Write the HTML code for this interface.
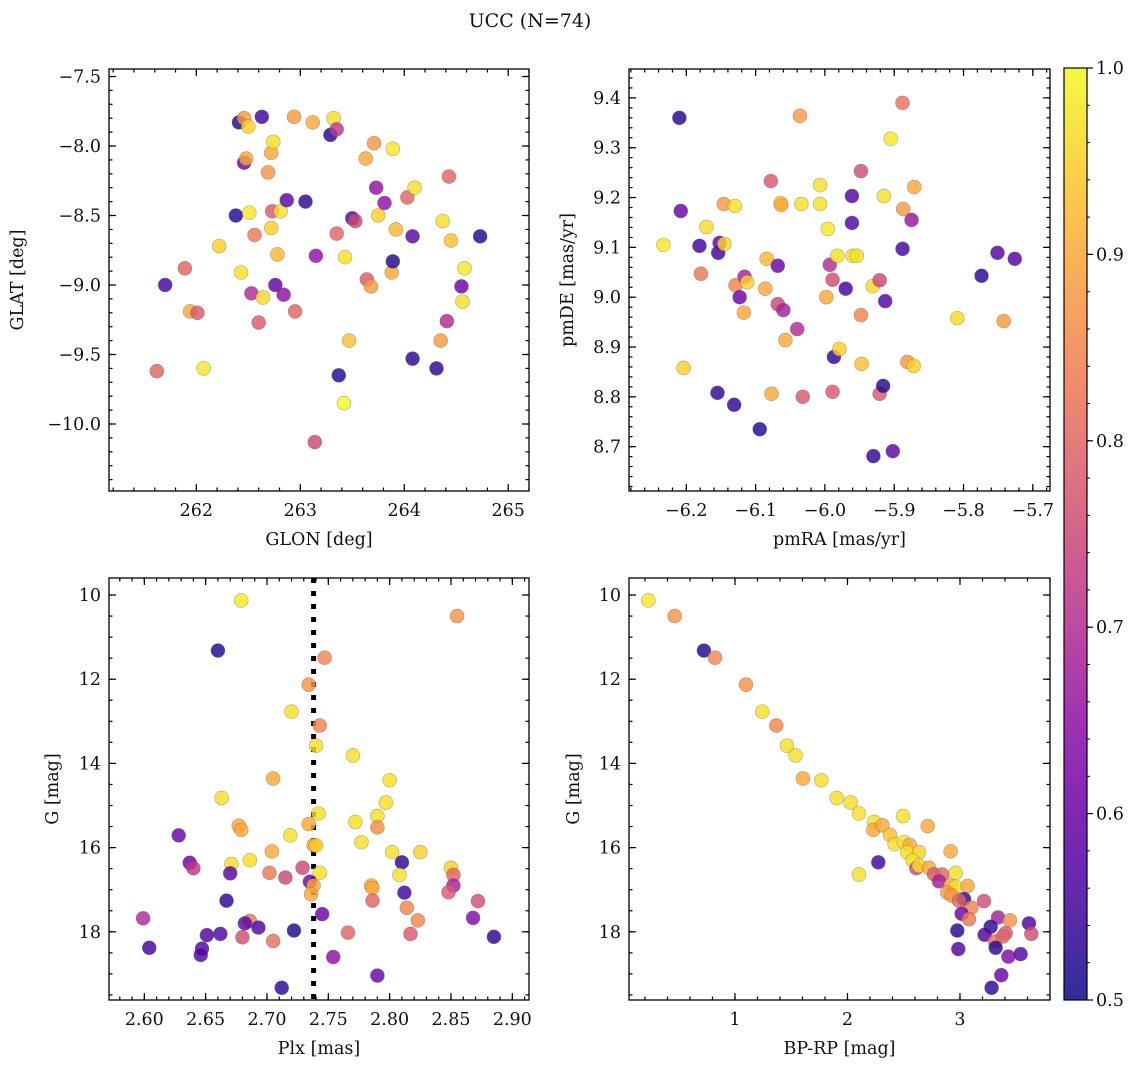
<!DOCTYPE html>
<html><head><meta charset="utf-8">
<style>
body{margin:0;background:#fff;}
svg text{font-family:"DejaVu Serif","Liberation Serif",serif;fill:#111;}
</style></head>
<body>
<svg id="fig" width="1136" height="1068" xmlns="http://www.w3.org/2000/svg">
<defs></defs>
<text x="530" y="27" font-size="19" text-anchor="middle">UCC (N=74)</text>
</svg>
<script>
// Panel 1: GLON / GLAT
const p1Lon=[261.62,261.70,261.89,261.94,262.01,262.07,262.22,262.38,262.41,262.43,262.46,262.46,262.48,262.50,262.51,262.53,262.56,262.60,262.63,262.64,262.69,262.72,262.72,262.73,262.74,262.76,262.78,262.81,262.84,262.87,262.94,262.95,263.05,263.12,263.14,263.15,263.29,263.32,263.35,263.35,263.37,263.42,263.43,263.47,263.50,263.53,263.63,263.64,263.68,263.71,263.73,263.75,263.81,263.88,263.89,263.89,263.92,264.03,264.08,264.08,264.10,264.31,264.35,264.37,264.41,264.43,264.45,264.55,264.56,264.58,264.73];
const p1Lat=[-9.62,-9.00,-8.88,-9.19,-9.20,-9.60,-8.72,-8.50,-7.83,-8.91,-8.12,-7.80,-8.09,-7.86,-8.48,-9.06,-8.64,-9.27,-7.79,-9.09,-8.19,-8.05,-8.59,-8.47,-7.97,-9.00,-8.78,-8.47,-9.07,-8.39,-7.79,-9.19,-8.40,-7.83,-10.13,-8.79,-7.92,-7.80,-7.88,-8.63,-9.65,-9.85,-8.80,-9.40,-8.52,-8.54,-8.09,-8.96,-9.01,-7.98,-8.30,-8.50,-8.41,-8.91,-8.83,-8.02,-8.60,-8.37,-9.53,-8.65,-8.30,-9.60,-9.40,-8.54,-9.26,-8.22,-8.68,-9.01,-9.12,-8.88,-8.65];
const p1Col=[0.8,0.55,0.8,0.9,0.78,0.98,0.95,0.52,0.52,0.97,0.6,0.88,0.9,0.95,0.98,0.7,0.83,0.78,0.55,0.96,0.87,0.9,0.95,0.78,0.97,0.58,0.92,0.97,0.65,0.58,0.88,0.8,0.53,0.9,0.75,0.65,0.52,0.97,0.72,0.8,0.52,1.0,0.97,0.93,0.57,0.75,0.9,0.78,0.88,0.87,0.65,0.95,0.65,0.9,0.52,0.98,0.92,0.8,0.53,0.58,0.97,0.53,0.88,0.97,0.7,0.8,0.93,0.6,0.97,0.98,0.52];
// Panel 2: pmRA / pmDE
const p2RA=[-6.233,-6.210,-6.208,-6.204,-6.181,-6.179,-6.171,-6.155,-6.154,-6.152,-6.146,-6.145,-6.131,-6.130,-6.129,-6.123,-6.117,-6.116,-6.112,-6.094,-6.086,-6.084,-6.078,-6.077,-6.068,-6.068,-6.064,-6.063,-6.060,-6.057,-6.040,-6.036,-6.034,-6.032,-6.007,-6.007,-5.998,-5.996,-5.993,-5.989,-5.989,-5.987,-5.982,-5.979,-5.970,-5.961,-5.961,-5.960,-5.954,-5.948,-5.948,-5.947,-5.931,-5.930,-5.921,-5.921,-5.916,-5.915,-5.913,-5.905,-5.902,-5.888,-5.888,-5.887,-5.881,-5.875,-5.872,-5.871,-5.809,-5.774,-5.751,-5.742,-5.726];
const p2DE=[9.105,9.36,9.173,8.858,9.103,9.047,9.141,8.808,9.089,9.109,9.187,9.107,8.784,9.183,9.024,9.0,8.969,9.041,9.03,8.735,9.017,9.077,9.233,8.806,9.063,8.986,9.189,9.185,8.974,8.914,8.936,9.364,9.187,8.800,9.225,9.187,9.0,9.137,9.065,9.035,8.810,8.880,9.083,8.896,9.017,9.203,9.149,9.083,9.083,9.253,8.964,8.866,9.022,8.681,9.034,8.806,8.822,9.203,8.992,9.318,8.691,9.390,9.097,9.177,8.870,9.155,8.862,9.221,8.958,9.043,9.089,8.952,9.077];
const p2Col=[0.98,0.52,0.6,0.95,0.55,0.83,0.97,0.53,0.55,0.58,0.88,0.96,0.53,0.97,0.85,0.6,0.9,0.68,0.95,0.52,0.9,0.92,0.78,0.9,0.6,0.75,0.96,0.9,0.68,0.9,0.7,0.88,0.97,0.78,0.97,0.97,0.9,0.98,0.7,0.76,0.78,0.53,0.97,0.95,0.55,0.57,0.57,0.97,0.97,0.76,0.85,0.93,0.96,0.53,0.75,0.78,0.52,0.97,0.57,0.98,0.58,0.82,0.55,0.88,0.88,0.66,0.95,0.9,0.96,0.53,0.57,0.88,0.57];
// Panel 3: Plx / G
const p3Plx=[2.679,2.855,2.660,2.747,2.734,2.720,2.743,2.740,2.770,2.705,2.800,2.663,2.797,2.742,2.790,2.677,2.734,2.772,2.679,2.790,2.628,2.719,2.777,2.738,2.740,2.704,2.802,2.825,2.686,2.637,2.810,2.671,2.640,2.729,2.850,2.743,2.670,2.702,2.808,2.852,2.715,2.735,2.738,2.785,2.786,2.852,2.812,2.736,2.848,2.667,2.786,2.872,2.814,2.745,2.599,2.868,2.823,2.686,2.682,2.693,2.722,2.766,2.662,2.651,2.817,2.885,2.680,2.705,2.604,2.647,2.646,2.754,2.790,2.712];
const p3G=[10.13,10.50,11.32,11.49,12.13,12.77,13.10,13.58,13.81,14.36,14.40,14.82,14.93,15.19,15.25,15.48,15.44,15.39,15.58,15.52,15.71,15.71,15.87,15.94,15.95,16.09,16.11,16.11,16.30,16.36,16.35,16.39,16.49,16.48,16.48,16.60,16.61,16.60,16.65,16.65,16.71,16.81,16.90,16.90,16.96,16.90,17.07,17.11,17.06,17.26,17.26,17.27,17.43,17.58,17.68,17.67,17.73,17.74,17.80,17.90,17.97,18.02,18.05,18.08,18.05,18.12,18.13,18.22,18.38,18.40,18.55,18.60,19.04,19.33];
const p3Col=[0.98,0.87,0.52,0.85,0.87,0.97,0.85,0.97,0.97,0.9,0.97,0.97,0.97,0.97,0.97,0.9,0.9,0.97,0.9,0.86,0.6,0.97,0.97,0.9,0.95,0.9,0.97,0.95,0.97,0.6,0.53,0.97,0.72,0.75,0.95,0.97,0.58,0.83,0.97,0.8,0.75,0.6,0.9,0.9,0.9,0.68,0.55,0.9,0.78,0.53,0.8,0.76,0.85,0.6,0.7,0.63,0.85,0.82,0.58,0.57,0.52,0.8,0.57,0.57,0.78,0.53,0.76,0.82,0.55,0.57,0.57,0.65,0.6,0.53];
const plxMedian=2.738;
// Panel 4: BP-RP / G
const p4BR=[0.230,0.464,0.724,0.822,1.098,1.243,1.367,1.462,1.539,1.604,1.767,1.904,2.028,2.102,2.493,2.713,2.236,2.230,2.310,2.378,2.274,2.419,2.501,2.553,2.532,2.636,2.917,2.578,2.102,2.612,2.636,2.724,2.769,2.843,2.813,2.961,2.917,2.961,3.068,2.887,2.926,3.036,2.991,3.213,3.101,3.015,3.080,3.338,3.444,3.613,2.976,3.273,3.219,3.406,3.311,3.634,3.382,3.317,2.985,3.430,3.539,3.367,3.281];
const p4G=[10.13,10.50,11.32,11.49,12.13,12.77,13.10,13.58,13.81,14.36,14.40,14.82,14.93,15.19,15.25,15.49,15.39,15.58,15.47,15.70,16.35,15.92,15.87,15.94,16.11,16.11,16.09,16.31,16.64,16.49,16.43,16.48,16.63,16.64,16.80,16.60,16.90,16.93,16.91,17.07,17.14,17.22,17.26,17.27,17.43,17.57,17.70,17.66,17.73,17.80,17.97,17.88,18.07,18.03,18.23,18.05,18.11,18.38,18.41,18.59,18.53,19.03,19.33];
const p4Col=[0.98,0.87,0.52,0.85,0.87,0.97,0.85,0.97,0.97,0.9,0.97,0.97,0.97,0.97,0.97,0.9,0.97,0.9,0.9,0.93,0.55,0.97,0.97,0.9,0.97,0.95,0.9,0.97,0.97,0.75,0.97,0.9,0.78,0.8,0.68,0.97,0.9,0.97,0.9,0.88,0.88,0.53,0.8,0.76,0.85,0.6,0.83,0.68,0.87,0.57,0.52,0.53,0.57,0.78,0.82,0.76,0.8,0.53,0.57,0.63,0.57,0.6,0.53];

const NS='http://www.w3.org/2000/svg';
const svg=document.getElementById('fig');
const FS=17.5;
function mk(tag,attrs,parent){const e=document.createElementNS(NS,tag);for(const k in attrs)e.setAttribute(k,attrs[k]);(parent||svg).appendChild(e);return e;}
const allStops=[[0,[13,8,135]],[0.1,[65,4,157]],[0.2,[106,0,168]],[0.3,[143,13,164]],[0.4,[177,42,144]],[0.5,[204,71,120]],[0.6,[225,100,98]],[0.7,[242,132,75]],[0.8,[252,166,54]],[0.9,[252,206,37]],[1.0,[240,249,33]]];
function plasma(t){t=Math.max(0,Math.min(1,t));for(let i=0;i<allStops.length-1;i++){const a=allStops[i],b=allStops[i+1];if(t<=b[0]){const f=(t-a[0])/(b[0]-a[0]);return 'rgb('+a[1].map((v,j)=>Math.round(v+(b[1][j]-v)*f)).join(',')+')';}}return 'rgb(240,249,33)';}
function cmap(c){return plasma((c-0.5)/0.5);}

function panel(o){
  const g=mk('g',{});
  
  
  const sx=v=>o.x0+(v-o.xmin)/(o.xmax-o.xmin)*(o.x1-o.x0);
  const sy=o.yinv?(v=>o.y0+(v-o.ymin)/(o.ymax-o.ymin)*(o.y1-o.y0)):(v=>o.y1-(v-o.ymin)/(o.ymax-o.ymin)*(o.y1-o.y0));
  const eps=1e-9;
  function ticksX(step,len,major){const s=Math.ceil((o.xmin-eps)/step);for(let k=s;k*step<=o.xmax+eps;k++){const v=k*step;const x=sx(v);
    mk('line',{x1:x,x2:x,y1:o.y1,y2:o.y1-len,stroke:'#000','stroke-width':1.2},g);mk('line',{x1:x,x2:x,y1:o.y0,y2:o.y0+len,stroke:'#000','stroke-width':1.2},g);
    if(major){const t=mk('text',{x:x,y:o.y1+25,'font-size':FS,'text-anchor':'middle'},g);t.textContent=o.fx(v);}}}
  function ticksY(step,len,major){const s=Math.ceil((o.ymin-eps)/step);for(let k=s;k*step<=o.ymax+eps;k++){const v=k*step;const y=sy(v);
    mk('line',{x1:o.x0,x2:o.x0+len,y1:y,y2:y,stroke:'#000','stroke-width':1.2},g);mk('line',{x1:o.x1,x2:o.x1-len,y1:y,y2:y,stroke:'#000','stroke-width':1.2},g);
    if(major){const t=mk('text',{x:o.x0-8,y:y+6,'font-size':FS,'text-anchor':'end'},g);t.textContent=o.fy(v);}}}
  ticksX(o.xminor,3.5,false);ticksX(o.xmajor,7,true);ticksY(o.yminor,3.5,false);ticksY(o.ymajor,7,true);
  if(o.vline!==undefined){const l=mk('line',{x1:sx(o.vline),x2:sx(o.vline),y1:o.y0,y2:o.y1,stroke:'#000','stroke-width':5,'stroke-dasharray':'5,8'},g);}
  for(let i=0;i<o.xs.length;i++){const c=mk('circle',{cx:sx(o.xs[i]),cy:sy(o.ys[i]),r:7,fill:cmap(o.cs[i]),'fill-opacity':0.82,stroke:'#666','stroke-opacity':0.5,'stroke-width':0.6},g);
    
    }
  mk('rect',{x:o.x0,y:o.y0,width:o.x1-o.x0,height:o.y1-o.y0,fill:'none',stroke:'#000','stroke-width':1.3},g);
  const xl=mk('text',{x:(o.x0+o.x1)/2,y:o.y1+54,'font-size':FS,'text-anchor':'middle'},g);xl.textContent=o.xlabel;
  const yl=mk('text',{x:0,y:0,'font-size':FS,'text-anchor':'middle',transform:'translate('+o.ylx+','+((o.y0+o.y1)/2)+') rotate(-90)'},g);yl.textContent=o.ylabel;
}
const minus=s=>s.replace('-','\u2212');
panel({name:'glon-glat-panel',x0:109,x1:529,y0:69,y1:491,xmin:261.16,xmax:265.2,ymin:-10.482,ymax:-7.446,xs:p1Lon,ys:p1Lat,cs:p1Col,xmajor:1,xminor:0.2,ymajor:0.5,yminor:0.1,fx:v=>v.toFixed(0),fy:v=>minus(v.toFixed(1)),xlabel:'GLON [deg]',ylabel:'GLAT [deg]',ylx:23});
panel({name:'pm-panel',x0:629,x1:1050,y0:69,y1:491,xmin:-6.2827,xmax:-5.6752,ymin:8.611,ymax:9.458,xs:p2RA,ys:p2DE,cs:p2Col,xmajor:0.1,xminor:0.02,ymajor:0.1,yminor:0.02,fx:v=>minus(v.toFixed(1)),fy:v=>v.toFixed(1),xlabel:'pmRA [mas/yr]',ylabel:'pmDE [mas/yr]',ylx:573});
panel({name:'plx-g-panel',x0:109,x1:529,y0:578,y1:1000,xmin:2.5712,xmax:2.9136,ymin:9.596,ymax:19.62,yinv:true,xs:p3Plx,ys:p3G,cs:p3Col,xmajor:0.05,xminor:0.01,ymajor:2,yminor:0.5,fx:v=>v.toFixed(2),fy:v=>v.toFixed(0),xlabel:'Plx [mas]',ylabel:'G [mag]',ylx:58,vline:plxMedian});
panel({name:'cmd-panel',x0:629,x1:1050,y0:578,y1:1000,xmin:0.058,xmax:3.8,ymin:9.596,ymax:19.62,yinv:true,xs:p4BR,ys:p4G,cs:p4Col,xmajor:1,xminor:0.2,ymajor:2,yminor:0.5,fx:v=>v.toFixed(0),fy:v=>v.toFixed(0),xlabel:'BP-RP [mag]',ylabel:'G [mag]',ylx:579});

// colorbar
const cb=mk('g',{});


const cx0=1064,cx1=1087,cy0=68,cy1=1000;
const lg=mk('linearGradient',{id:'cbgrad',x1:0,y1:1,x2:0,y2:0},svg.querySelector('defs'));
for(let i=0;i<=20;i++){mk('stop',{offset:i/20,'stop-color':plasma(i/20),'stop-opacity':0.85},lg);}
mk('rect',{x:cx0,y:cy0,width:cx1-cx0,height:cy1-cy0,fill:'url(#cbgrad)',stroke:'#000','stroke-width':1.2},cb);
const cbTicks=[0.5,0.6,0.7,0.8,0.9,1.0];
for(let k=0;k<=25;k++){const v=0.5+k*0.02;const y=cy1-(v-0.5)/0.5*(cy1-cy0);mk('line',{x1:cx1,x2:cx1+3,y1:y,y2:y,stroke:'#000','stroke-width':1},cb);}
cbTicks.forEach(v=>{const y=cy1-(v-0.5)/0.5*(cy1-cy0);mk('line',{x1:cx1,x2:cx1+6,y1:y,y2:y,stroke:'#000','stroke-width':1.2},cb);
  const t=mk('text',{x:cx1+9,y:y+6,'font-size':FS},cb);t.textContent=v.toFixed(1);});
</script>
</body></html>
